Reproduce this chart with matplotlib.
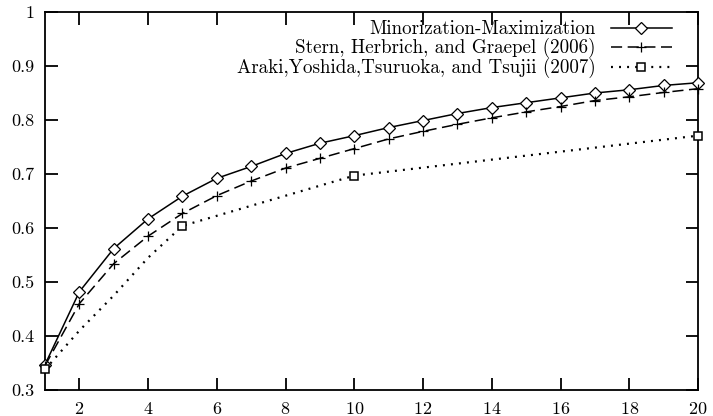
import numpy as np
import matplotlib.pyplot as plt

# data
x_mm = list(range(1, 21))
y_mm = [0.347, 0.482, 0.562, 0.617, 0.659, 0.692, 0.714, 0.738, 0.757, 0.771,
        0.786, 0.799, 0.812, 0.823, 0.832, 0.841, 0.850, 0.856, 0.864, 0.869]

x_stern = list(range(1, 21))
y_stern = [0.345, 0.460, 0.534, 0.585, 0.627, 0.660, 0.687, 0.711, 0.729, 0.747,
           0.765, 0.779, 0.792, 0.804, 0.815, 0.825, 0.836, 0.843, 0.851, 0.858]

x_araki = [1, 2, 3, 4, 5, 10, 20]
y_araki = [0.338, 0.410, 0.475, 0.545, 0.604, 0.697, 0.771]
araki_marked = [0, 4, 5, 6]

labels = ["Minorization-Maximization",
          "Stern, Herbrich, and Graepel (2006)",
          "Araki,Yoshida,Tsuruoka, and Tsujii (2007)"]

xticks = [2, 4, 6, 8, 10, 12, 14, 16, 18, 20]
yticks = [0.3, 0.4, 0.5, 0.6, 0.7, 0.8, 0.9, 1.0]
ytick_labels = ["0.3", "0.4", "0.5", "0.6", "0.7", "0.8", "0.9", "1"]

plt.rcParams['font.family'] = 'cmr10'
plt.rcParams['axes.formatter.use_mathtext'] = True
plt.rcParams['lines.scale_dashes'] = False

fig = plt.figure(figsize=(7.13, 4.16), dpi=100)
ax = fig.add_axes([45 / 713, 1 - 390 / 416, 653 / 713, 378 / 416])

lw = 1.1
ax.plot(x_mm, y_mm, color='black', lw=lw, marker='D', markersize=5.8,
        markerfacecolor='white', markeredgecolor='black', markeredgewidth=0.9,
        clip_on=False, zorder=3, label=labels[0])
ax.plot(x_stern, y_stern, color='black', lw=lw, dashes=(8, 4), marker='+',
        markersize=7, markeredgewidth=0.9, clip_on=False, zorder=3,
        label=labels[1])
ax.plot(x_araki, y_araki, color='black', lw=1.6, dashes=(1.4, 4.4),
        marker='s', markersize=5.5, markerfacecolor='white',
        markeredgecolor='black', markeredgewidth=1.1,
        markevery=araki_marked, clip_on=False, zorder=3, label=labels[2])

ax.set_xlim(1, 20)
ax.set_ylim(0.3, 1.0)
ax.set_xticks(xticks)
ax.set_yticks(yticks)
ax.set_yticklabels(ytick_labels)
ax.tick_params(direction='in', length=9, width=1.3, top=True, right=True,
               labelsize=13, pad=8)
for s in ax.spines.values():
    s.set_linewidth(1.3)

leg = ax.legend(loc='upper right', bbox_to_anchor=(0.96, 0.978), frameon=False,
                markerfirst=False, numpoints=1, fontsize=13.7, handlelength=3.2,
                handletextpad=0.8, labelspacing=0.0, borderpad=0,
                borderaxespad=0)

fig.savefig('out.png', dpi=100)
